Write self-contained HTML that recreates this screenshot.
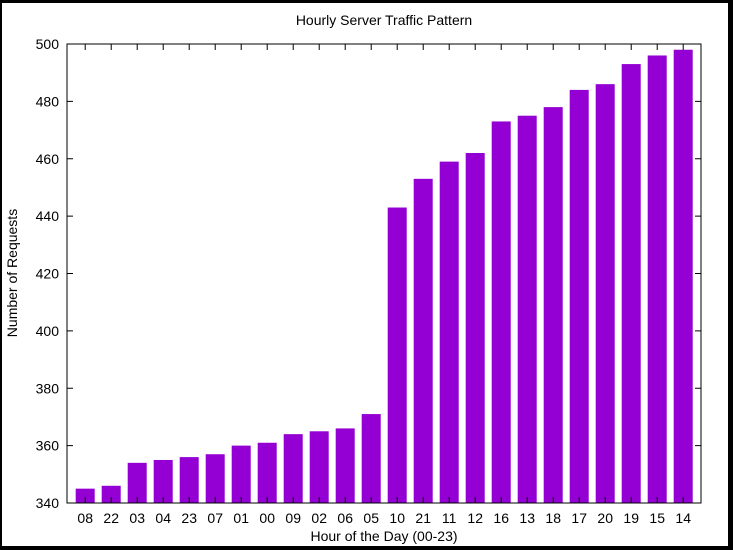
<!DOCTYPE html>
<html><head><meta charset="utf-8"><style>
html,body{margin:0;padding:0;background:#000;}
svg{display:block;font-family:"Liberation Sans",sans-serif;}
</style></head><body>
<svg width="733" height="550">
<rect x="0" y="0" width="733" height="550" fill="#000"/>
<rect x="2" y="3" width="726" height="543" fill="#fff"/>
<text x="384" y="25" font-size="14" text-anchor="middle">Hourly Server Traffic Pattern</text>
<text x="384" y="541" font-size="14" text-anchor="middle">Hour of the Day (00-23)</text>
<text transform="translate(17,273) rotate(-90)" font-size="14" text-anchor="middle">Number of Requests</text>
<g id="bars"></g>
<g id="axes"></g>
<rect x="67" y="44" width="634" height="459" fill="none" stroke="#000" stroke-width="1"/>
</svg>
<script>
const categories = ["08","22","03","04","23","07","01","00","09","02","06","05","10","21","11","12","16","13","18","17","20","19","15","14"];
const values = [345,346,354,355,356,357,360,361,364,365,366,371,443,453,459,462,473,475,478,484,486,493,496,498];
const yTicks = [340,360,380,400,420,440,460,480,500];
const L=67,R=701,T=44,B=503,ymin=340,ymax=500;
const step=26, off=0.7;
function xs(i){return L+(i+off)*step;}
function ys(v){return B-(v-ymin)/(ymax-ymin)*(B-T);}
const NS="http://www.w3.org/2000/svg";
const bars=document.getElementById('bars'), axes=document.getElementById('axes');
function mk(tag,attrs,parent){const e=document.createElementNS(NS,tag);for(const k in attrs)e.setAttribute(k,attrs[k]);parent.appendChild(e);return e;}
values.forEach((v,i)=>{
  const w=19;
  const r=mk('rect',{x:xs(i)-w/2,y:ys(v),width:w,height:B-ys(v),fill:'#9400d3'},bars);
  
  
  const t=mk('text',{x:xs(i),y:B+20,'font-size':14,'text-anchor':'middle'},axes);
  t.textContent=categories[i];
  
  
  const a=mk('line',{x1:xs(i),x2:xs(i),y1:B,y2:B-6,stroke:'#000'},axes);
  
  
  const b=mk('line',{x1:xs(i),x2:xs(i),y1:T,y2:T+6,stroke:'#000'},axes);
  
  
});
yTicks.forEach(v=>{
  const y=ys(v);
  const t=mk('text',{x:59,y:y+5,'font-size':14,'text-anchor':'end'},axes);
  t.textContent=v;
  
  
  const a=mk('line',{x1:L,x2:L+6,y1:y,y2:y,stroke:'#000'},axes);
  
  
  const b=mk('line',{x1:R,x2:R-6,y1:y,y2:y,stroke:'#000'},axes);
  
  
});
</script>
</body></html>
